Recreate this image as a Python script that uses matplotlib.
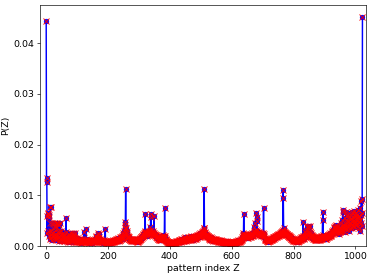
import matplotlib
matplotlib.use('Agg')
import matplotlib.pyplot as plt
import numpy as np

# probabilities in units of 1e-4, 32 values per row, pattern index 0..1023
p_rows = [
    [443, 134, 126, 25, 60, 66, 64, 30, 62, 20, 58, 45, 15, 78, 77, 22, 30, 18, 45, 25, 12, 44, 20, 35, 16, 45, 28, 14, 40, 22, 18, 45],
    [12, 38, 20, 45, 16, 30, 44, 25, 10, 42, 18, 28, 14, 45, 22, 12, 30, 16, 24, 10, 18, 26, 12, 20, 14, 10, 16, 22, 12, 18, 10, 14],
    [55, 28, 14, 10, 18, 12, 8, 16, 20, 10, 14, 24, 12, 18, 9, 15, 25, 12, 20, 10, 16, 24, 11, 25, 14, 22, 9, 18, 25, 12, 16, 10],
    [14, 8, 12, 10, 16, 9, 13, 8, 11, 15, 9, 12, 8, 10, 14, 9, 7, 11, 13, 8, 10, 12, 9, 14, 8, 11, 10, 28, 13, 9, 12, 10],
    [34, 12, 9, 14, 10, 8, 12, 9, 11, 7, 10, 13, 8, 9, 11, 10, 8, 12, 9, 7, 10, 11, 8, 13, 9, 10, 12, 8, 11, 9, 15, 10],
    [18, 12, 20, 14, 9, 16, 22, 12, 25, 15, 10, 24, 18, 12, 9, 14, 11, 8, 12, 10, 9, 13, 8, 11, 10, 7, 9, 12, 8, 10, 11, 33],
    [10, 8, 9, 7, 8, 10, 6, 9, 8, 7, 9, 8, 6, 10, 8, 9, 7, 8, 10, 9, 8, 11, 9, 10, 8, 12, 10, 9, 11, 13, 10, 12],
    [11, 14, 12, 10, 13, 15, 11, 14, 12, 16, 13, 11, 15, 14, 12, 17, 13, 15, 18, 14, 16, 20, 17, 15, 22, 18, 25, 20, 30, 24, 48, 35],
    [42, 113, 35, 28, 30, 22, 25, 18, 20, 16, 18, 15, 14, 17, 13, 15, 12, 14, 11, 13, 15, 12, 14, 10, 12, 11, 13, 10, 12, 14, 11, 13],
    [12, 10, 14, 11, 13, 9, 12, 10, 11, 13, 9, 12, 14, 11, 15, 13, 16, 14, 18, 15, 17, 20, 16, 19, 22, 18, 24, 20, 26, 22, 28, 25],
    [63, 30, 25, 28, 22, 26, 24, 20, 25, 22, 27, 24, 30, 26, 28, 25, 37, 30, 58, 63, 32, 28, 25, 27, 22, 30, 26, 24, 21, 60, 25, 22],
    [24, 20, 22, 18, 21, 17, 19, 16, 18, 15, 17, 14, 16, 13, 15, 12, 14, 16, 13, 15, 12, 18, 14, 16, 20, 15, 18, 22, 16, 20, 18, 75],
    [20, 16, 14, 12, 13, 10, 11, 9, 10, 8, 9, 7, 8, 6, 7, 5, 6, 5, 7, 6, 5, 8, 6, 7, 5, 6, 8, 7, 6, 9, 7, 8],
    [6, 9, 7, 8, 10, 7, 9, 8, 11, 9, 10, 8, 12, 10, 9, 11, 13, 10, 12, 9, 11, 14, 10, 12, 15, 11, 13, 10, 12, 16, 13, 11],
    [14, 12, 17, 13, 15, 11, 14, 16, 12, 15, 13, 17, 14, 12, 16, 18, 14, 13, 15, 17, 12, 16, 19, 14, 17, 15, 13, 18, 16, 14, 19, 17],
    [15, 18, 16, 20, 17, 15, 19, 21, 18, 16, 20, 22, 19, 17, 21, 23, 20, 18, 22, 25, 21, 24, 20, 26, 23, 28, 25, 30, 27, 35, 32, 112],
    [36, 28, 25, 22, 24, 20, 22, 19, 21, 18, 20, 17, 19, 16, 18, 15, 17, 14, 16, 13, 15, 17, 14, 12, 16, 13, 15, 12, 14, 11, 13, 15],
    [12, 14, 11, 13, 10, 12, 14, 11, 13, 10, 12, 9, 11, 13, 10, 12, 9, 11, 8, 10, 12, 9, 11, 8, 10, 9, 7, 9, 8, 10, 7, 9],
    [8, 10, 7, 9, 8, 6, 9, 7, 8, 10, 7, 9, 8, 6, 8, 7, 9, 6, 8, 7, 5, 8, 6, 7, 9, 6, 8, 7, 6, 8, 7, 9],
    [7, 8, 6, 9, 7, 8, 10, 8, 9, 7, 10, 8, 11, 9, 12, 10, 8, 11, 9, 13, 10, 12, 14, 11, 15, 13, 18, 16, 22, 25, 20, 64],
    [24, 20, 18, 22, 19, 17, 21, 18, 16, 20, 17, 22, 19, 16, 21, 18, 23, 20, 17, 22, 19, 24, 21, 18, 23, 20, 25, 22, 19, 24, 21, 26],
    [38, 30, 25, 28, 24, 45, 32, 28, 65, 57, 50, 30, 26, 23, 28, 25, 22, 27, 24, 21, 26, 23, 20, 25, 22, 24, 21, 23, 20, 22, 26, 75],
    [24, 20, 18, 16, 15, 13, 14, 12, 13, 11, 12, 10, 11, 9, 12, 10, 11, 13, 10, 12, 14, 11, 13, 15, 12, 14, 16, 13, 15, 17, 14, 16],
    [18, 15, 17, 19, 16, 18, 20, 17, 19, 21, 18, 20, 22, 19, 21, 23, 20, 22, 24, 21, 23, 25, 22, 26, 24, 28, 25, 30, 27, 32, 110, 95],
    [35, 30, 28, 25, 27, 24, 26, 23, 25, 22, 24, 21, 23, 20, 22, 19, 21, 18, 20, 17, 19, 16, 18, 15, 17, 14, 16, 13, 15, 12, 14, 11],
    [13, 10, 12, 14, 11, 13, 10, 12, 9, 11, 13, 10, 12, 9, 11, 14, 10, 12, 15, 11, 13, 16, 12, 14, 17, 13, 15, 18, 14, 16, 20, 48],
    [18, 15, 20, 16, 22, 28, 18, 25, 20, 32, 17, 22, 38, 24, 19, 35, 40, 26, 21, 38, 28, 23, 40, 25, 20, 18, 22, 19, 16, 21, 17, 15],
    [19, 16, 14, 18, 15, 13, 17, 14, 12, 16, 13, 15, 12, 14, 17, 13, 16, 12, 15, 18, 14, 17, 13, 16, 19, 15, 18, 14, 17, 20, 52, 67],
    [22, 18, 16, 20, 17, 15, 19, 16, 14, 18, 15, 17, 20, 16, 19, 22, 18, 21, 17, 20, 23, 19, 22, 25, 20, 24, 21, 26, 23, 28, 30, 25],
    [32, 28, 35, 30, 38, 27, 40, 33, 29, 42, 36, 31, 40, 28, 34, 30, 26, 32, 28, 24, 30, 35, 27, 38, 32, 29, 45, 34, 30, 52, 40, 72],
    [68, 35, 42, 30, 38, 55, 33, 46, 28, 40, 68, 36, 50, 45, 62, 38, 55, 48, 30, 65, 42, 58, 35, 52, 46, 62, 38, 55, 44, 68, 36, 50],
    [58, 40, 65, 45, 52, 70, 38, 60, 48, 55, 66, 42, 62, 50, 45, 58, 72, 40, 55, 48, 60, 35, 52, 75, 30, 45, 62, 88, 92, 40, 65, 452],
]

P = np.array(p_rows).flatten() * 1e-4
Z = np.arange(len(P))

plt.rcParams['font.size'] = 11.5
fig = plt.figure(figsize=(6.4, 4.706), dpi=58.44)
ax = fig.add_axes([0.107, 0.105, 0.872, 0.877])
ax.plot(Z, P, 'b-o', ms=5.5, lw=1.8)
ax.plot(Z, P, 'rx', ms=6.5, mew=1.1)
ax.set_xlim(-20, 1035)
ax.set_ylim(0, 0.0475)
ax.set_xticks([0, 200, 400, 600, 800, 1000])
ax.set_yticks([0.0, 0.01, 0.02, 0.03, 0.04])
ax.set_xlabel('pattern index Z')
ax.set_ylabel('P(Z)')
fig.savefig('out.png', dpi=58.44)
